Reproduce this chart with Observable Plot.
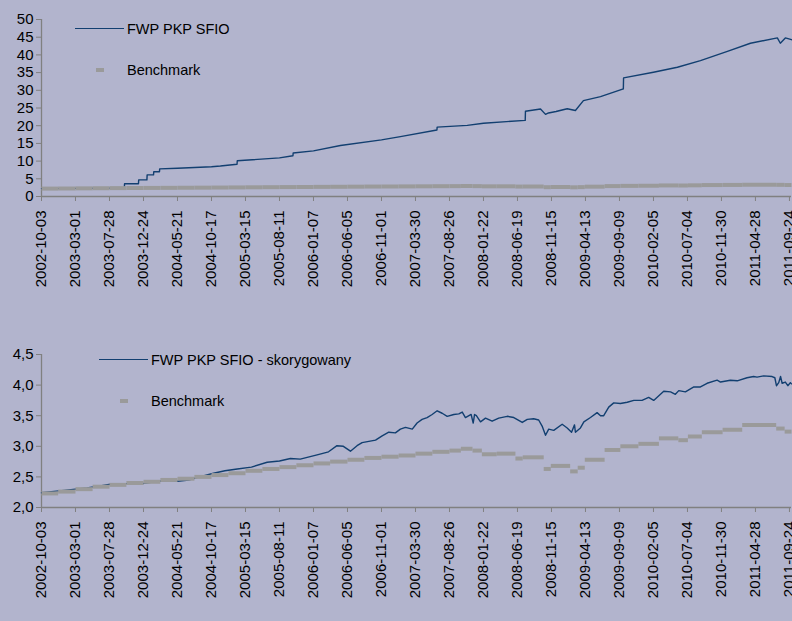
<!DOCTYPE html>
<html>
<head>
<meta charset="utf-8">
<script src="https://cdn.jsdelivr.net/npm/d3@7"></script>
<script src="https://cdn.jsdelivr.net/npm/@observablehq/plot@0.6"></script>
<style>
  html, body { margin: 0; padding: 0; background: #B2B4CD; }
  #wrap { position: relative; width: 792px; height: 621px; overflow: hidden; background: #B2B4CD;
          font-family: "Liberation Sans", Arial, sans-serif; }
  #top, #bottom { position: absolute; left: 0; }
  #top { top: 0; }
  #bottom { top: 310px; }
  .leg { position: absolute; font-size: 14.5px; line-height: 16px; color: #000; white-space: nowrap; }
  .swline { position: absolute; height: 0; border-top: 1.5px solid #123f70; }
  .swdash { position: absolute; height: 4px; width: 8px; background: #9a9a9a; }
</style>
</head>
<body>
<div id="wrap">
  <div id="top"></div>
  <div id="bottom"></div>
</div>
<script>
// ---------- data ----------
const tickDates = ["2002-10-03","2003-03-01","2003-07-28","2003-12-24","2004-05-21","2004-10-17",
  "2005-03-15","2005-08-11","2006-01-07","2006-06-05","2006-11-01","2007-03-30","2007-08-26",
  "2008-01-22","2008-06-19","2008-11-15","2009-04-13","2009-09-09","2010-02-05","2010-07-04",
  "2010-11-30","2011-04-28","2011-09-24"];
const xStart = "2002-10-03";
const xEnd = "2011-10-03";

const yTicksTop = [0, 5, 10, 15, 20, 25, 30, 35, 40, 45, 50];
const yTicksBottom = [2.0, 2.5, 3.0, 3.5, 4.0, 4.5];

const seriesTopName = "FWP PKP SFIO";
const seriesBottomName = "FWP PKP SFIO - skorygowany";
const benchName = "Benchmark";

// Fund (raw) - top chart
const fundDates = ["2002-10-03","2003-03-01","2003-07-28","2003-10-01","2003-10-02","2003-12-02","2003-12-03",
  "2004-01-08","2004-01-09","2004-02-06","2004-02-07","2004-03-03","2004-03-04","2004-05-21","2004-10-17",
  "2004-11-25","2005-02-06","2005-02-07","2005-08-11","2005-10-09","2005-10-10","2006-01-07","2006-05-05",
  "2006-11-01","2007-01-23","2007-07-02","2007-07-03","2007-11-12","2008-01-22","2008-07-23","2008-07-24",
  "2008-09-28","2008-10-20","2008-11-02","2008-12-05","2009-01-23","2009-02-28","2009-04-04","2009-06-18",
  "2009-09-26","2009-09-27","2010-02-05","2010-05-21","2010-08-30","2010-12-26","2011-04-06","2011-08-02",
  "2011-08-15","2011-09-06","2011-10-03"];
const fundValues = [2.23,2.30,2.37,2.40,3.6,3.6,4.7,
  4.7,6.1,6.1,7.0,7.0,7.8,8.0,8.4,
  8.6,9.1,10.1,10.9,11.5,12.3,12.9,14.4,
  16.0,16.9,18.8,19.6,20.1,20.7,21.5,24.1,
  24.7,23.2,23.6,24.0,24.8,24.3,27.1,28.2,
  30.4,33.5,35.1,36.5,38.4,41.0,43.3,44.8,
  43.3,44.8,44.3];

// Fund (adjusted) - bottom chart
const adjDates = ["2002-10-03","2002-11-15","2003-01-10","2003-03-01","2003-04-20","2003-06-10","2003-08-01",
  "2003-10-01","2003-12-20","2004-02-10","2004-03-25","2004-05-20","2004-07-10","2004-08-25","2004-10-26",
  "2004-12-15","2005-02-07","2005-04-10","2005-06-18","2005-08-11","2005-09-28","2005-11-10","2006-01-23",
  "2006-03-14","2006-04-20","2006-05-18","2006-06-18","2006-07-17","2006-08-08","2006-10-06","2006-11-04",
  "2006-12-03","2007-01-01","2007-01-23","2007-02-14","2007-03-16","2007-04-06","2007-04-28","2007-05-20",
  "2007-06-11","2007-07-03","2007-07-25","2007-08-16","2007-09-14","2007-10-06","2007-10-21","2007-11-04",
  "2007-11-29","2007-12-08","2007-12-14","2007-12-22","2008-01-09","2008-01-31","2008-02-29","2008-03-29",
  "2008-05-05","2008-06-03","2008-07-10","2008-08-01","2008-08-29","2008-09-20","2008-10-05","2008-10-20",
  "2008-11-03","2008-11-25","2009-01-01","2009-01-23","2009-02-11","2009-02-24","2009-02-28","2009-03-22",
  "2009-04-06","2009-05-05","2009-06-03","2009-06-18","2009-07-02","2009-07-24","2009-08-15","2009-09-13",
  "2009-10-13","2009-11-11","2009-12-17","2010-01-15","2010-02-06","2010-03-22","2010-04-21","2010-05-12",
  "2010-05-27","2010-06-25","2010-08-01","2010-08-30","2010-09-28","2010-11-11","2010-11-26","2011-01-08",
  "2011-02-07","2011-03-22","2011-04-20","2011-05-05","2011-06-03","2011-07-10","2011-07-22","2011-07-29",
  "2011-08-08","2011-08-16","2011-08-23","2011-09-06","2011-09-17","2011-09-28","2011-10-03"];
const adjValues = [2.24,2.26,2.28,2.30,2.32,2.35,2.38,
  2.39,2.39,2.42,2.44,2.43,2.45,2.50,2.56,
  2.60,2.63,2.66,2.74,2.76,2.80,2.79,2.86,
  2.91,3.01,3.00,2.92,3.01,3.06,3.10,3.17,
  3.23,3.22,3.28,3.31,3.28,3.38,3.44,3.47,
  3.52,3.58,3.54,3.49,3.52,3.53,3.56,3.47,
  3.52,3.38,3.52,3.50,3.40,3.46,3.41,3.46,
  3.49,3.47,3.39,3.44,3.45,3.43,3.33,3.18,
  3.28,3.26,3.36,3.30,3.23,3.35,3.23,3.30,
  3.40,3.47,3.55,3.50,3.50,3.64,3.71,3.70,
  3.72,3.75,3.75,3.80,3.75,3.90,3.89,3.85,
  3.91,3.89,3.97,3.97,4.03,4.08,4.05,4.08,
  4.07,4.12,4.14,4.13,4.15,4.14,4.12,3.99,
  4.04,4.14,4.03,4.05,3.99,4.04,4.02];

// Benchmark (piecewise levels starting at each date)
const benchDates = ["2002-10-03","2002-12-15","2003-03-01","2003-05-15","2003-07-28","2003-10-10","2003-12-24",
  "2004-03-07","2004-05-21","2004-08-03","2004-10-17","2004-12-30","2005-03-15","2005-05-28","2005-08-11",
  "2005-10-24","2006-01-07","2006-03-21","2006-06-05","2006-08-18","2006-11-01","2007-01-15","2007-03-30",
  "2007-06-12","2007-08-26","2007-10-15","2007-12-05","2008-01-15","2008-03-20","2008-06-10","2008-07-12",
  "2008-10-12","2008-11-12","2009-02-05","2009-03-10","2009-04-10","2009-07-06","2009-09-13","2009-12-01",
  "2010-03-01","2010-05-25","2010-07-06","2010-09-05","2010-12-05","2011-03-01","2011-07-28","2011-09-03"];
const benchValues = [2.23,2.26,2.30,2.34,2.37,2.40,2.42,
  2.45,2.47,2.50,2.53,2.56,2.60,2.63,2.66,
  2.69,2.72,2.75,2.78,2.81,2.83,2.85,2.88,
  2.91,2.93,2.96,2.93,2.87,2.88,2.80,2.82,
  2.63,2.68,2.59,2.65,2.78,2.94,3.00,3.04,
  3.13,3.10,3.16,3.23,3.27,3.35,3.29,3.24];

// ---------- build ----------
const P = d3.utcParse("%Y-%m-%d");
const fund = fundDates.map((d, i) => ({date: P(d), value: fundValues[i]}));
const adj = adjDates.map((d, i) => ({date: P(d), value: adjValues[i]}));
const bench = benchDates.map((d, i) => ({
  x1: P(d), x2: i + 1 < benchDates.length ? P(benchDates[i + 1]) : P(xEnd), value: benchValues[i]
}));

const FUND_COLOR = "#123f70";
const BENCH_COLOR = "#9a9a9a";
const AXIS_COLOR = "#808080";
const fmt = d3.utcFormat("%Y-%m-%d");

function makeChart({data, yDomain, yTicks, yFormat, marginTop, height}) {
  return Plot.plot({
    width: 792,
    height,
    marginLeft: 41,
    marginRight: 1,
    marginTop,
    marginBottom: 114,
    style: {background: "transparent", fontFamily: "'Liberation Sans', Arial, sans-serif", fontSize: "14.5px", color: "#000"},
    x: {type: "utc", domain: [P(xStart), P(xEnd)], ticks: tickDates.map(P), tickFormat: fmt, label: null},
    y: {domain: yDomain, ticks: yTicks, tickFormat: yFormat, label: null},
    marks: [
      Plot.axisX({ticks: tickDates.map(P), tickFormat: fmt, tickRotate: -90, tickSize: 5, tickPadding: 9,
                  stroke: AXIS_COLOR, fill: "#000", fontSize: 15}),
      Plot.axisY({ticks: yTicks, tickFormat: yFormat, tickSize: 5, tickPadding: 3, stroke: AXIS_COLOR, fill: "#000", fontSize: 15}),
      Plot.ruleY([yDomain[0]], {stroke: AXIS_COLOR, strokeWidth: 1.3}),
      Plot.ruleX([P(xStart)], {stroke: AXIS_COLOR, strokeWidth: 1.3}),
      Plot.line(data, {x: "date", y: "value", stroke: FUND_COLOR, strokeWidth: 1.4}),
      Plot.link(bench, {x1: "x1", x2: "x2", y1: "value", y2: "value", stroke: BENCH_COLOR, strokeWidth: 4})
    ]
  });
}

document.getElementById("top").appendChild(makeChart({
  data: fund, yDomain: [0, 50], yTicks: yTicksTop, yFormat: d => String(d), marginTop: 19, height: 310
}));
document.getElementById("bottom").appendChild(makeChart({
  data: adj, yDomain: [2, 4.5], yTicks: yTicksBottom, yFormat: d => d.toFixed(1).replace(".", ","), marginTop: 44, height: 311
}));

// ---------- legends ----------
const wrap = document.getElementById("wrap");
function addLegend(items) {
  for (const it of items) {
    const sw = document.createElement("div");
    if (it.type === "line") {
      sw.className = "swline";
      sw.style.left = it.sx + "px"; sw.style.width = it.sw + "px"; sw.style.top = (it.cy - 1) + "px";
    } else {
      sw.className = "swdash";
      sw.style.left = it.sx + "px"; sw.style.top = (it.cy - 2) + "px";
    }
    wrap.appendChild(sw);
    const t = document.createElement("div");
    t.className = "leg";
    t.textContent = it.label;
    t.style.left = it.tx + "px"; t.style.top = (it.cy - 8) + "px";
    wrap.appendChild(t);
  }
}
addLegend([
  {type: "line", label: seriesTopName, sx: 75, sw: 49, cy: 29, tx: 127},
  {type: "dash", label: benchName, sx: 96, cy: 70, tx: 127},
  {type: "line", label: seriesBottomName, sx: 99, sw: 49, cy: 360, tx: 151},
  {type: "dash", label: benchName, sx: 120, cy: 401, tx: 151}
]);
</script>
</body>
</html>
